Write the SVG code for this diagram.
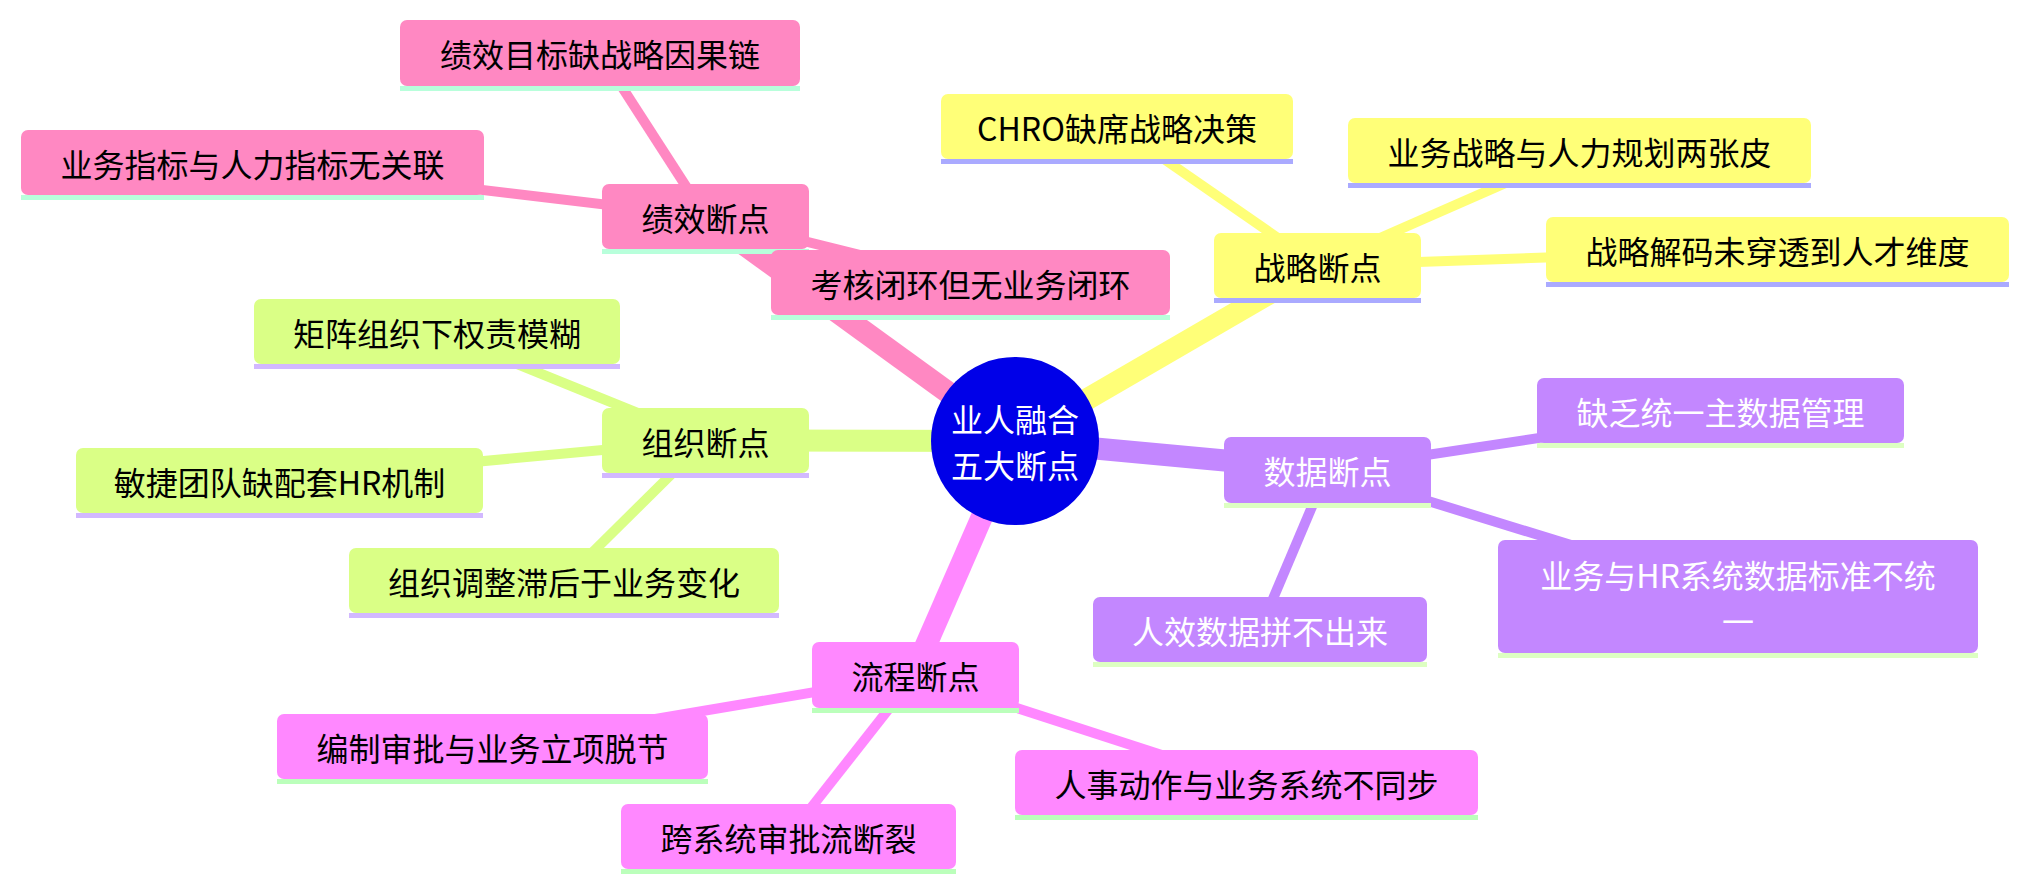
<svg xmlns="http://www.w3.org/2000/svg" width="2028" height="891" viewBox="0 0 2028 891">
<style>
text{font-family:"Noto Sans CJK SC","Noto Sans",sans-serif;font-size:32px;text-anchor:middle;dominant-baseline:central;fill:#000}
.e{fill:none;stroke-linecap:butt}
.e1{stroke-width:22}
.e2{stroke-width:10}
.pk{fill:#ff88c2}.pkl{fill:#b8ffdb}.pke{stroke:#ff88c2}
.ye{stroke:#ffff78}.yf{fill:#ffff78}.yl{fill:#aaaaff}
.gr{fill:#daff86}.grl{fill:#d2b8ff}.gre{stroke:#daff86}
.pu{fill:#c387ff}.pul{fill:#ddffc2}.pue{stroke:#c387ff}
.mg{fill:#ff88ff}.mgl{fill:#bbffbb}.mge{stroke:#ff88ff}
.w{fill:#fff}
</style>
<g id="connectors">
<line class="e e1 pke" x1="1015" y1="441" x2="705.5" y2="216.5"/>
<line class="e e1 ye" x1="1015" y1="441" x2="1317.5" y2="265.5"/>
<line class="e e1 gre" x1="1015" y1="441" x2="705.5" y2="440.5"/>
<line class="e e1 pue" x1="1015" y1="441" x2="1327.5" y2="470"/>
<line class="e e1 mge" x1="1015" y1="441" x2="913" y2="675"/>
<line class="e e2 pke" x1="705.5" y1="216.5" x2="600" y2="53"/>
<line class="e e2 pke" x1="705.5" y1="216.5" x2="252.5" y2="162.5"/>
<line class="e e2 pke" x1="705.5" y1="216.5" x2="970.5" y2="282.5"/>
<line class="e e2 ye" x1="1317.5" y1="265.5" x2="1117" y2="126.5"/>
<line class="e e2 ye" x1="1317.5" y1="265.5" x2="1579.5" y2="150.5"/>
<line class="e e2 ye" x1="1317.5" y1="265.5" x2="1777.5" y2="249.5"/>
<line class="e e2 gre" x1="705.5" y1="440.5" x2="437" y2="331.5"/>
<line class="e e2 gre" x1="705.5" y1="440.5" x2="279.5" y2="480"/>
<line class="e e2 gre" x1="705.5" y1="440.5" x2="564" y2="580.5"/>
<line class="e e2 pue" x1="1327.5" y1="470" x2="1720.5" y2="410.5"/>
<line class="e e2 pue" x1="1327.5" y1="470" x2="1738" y2="596.5"/>
<line class="e e2 pue" x1="1327.5" y1="470" x2="1260" y2="629.5"/>
<line class="e e2 mge" x1="915.5" y1="675" x2="492.5" y2="746.5"/>
<line class="e e2 mge" x1="915.5" y1="675" x2="788.5" y2="836.5"/>
<line class="e e2 mge" x1="915.5" y1="675" x2="1246.5" y2="782.5"/>
</g>
<g id="root">
<circle cx="1015" cy="441" r="84" fill="#0000e8"/>
<text class="w" x="1015" y="418">业人融合</text>
<text class="w" x="1015" y="464">五大断点</text>
</g>
<g id="jixiao">
<rect class="pk" x="602" y="184" width="207" height="65" rx="7"/><rect class="pkl" x="602" y="249" width="207" height="5"/>
<text x="705.5" y="216.5">绩效断点</text>
</g>
<g id="jixiao1">
<rect class="pk" x="400" y="20" width="400" height="66" rx="7"/><rect class="pkl" x="400" y="86" width="400" height="5"/>
<text x="600" y="53">绩效目标缺战略因果链</text>
</g>
<g id="jixiao2">
<rect class="pk" x="21" y="130" width="463" height="65" rx="7"/><rect class="pkl" x="21" y="195" width="463" height="5"/>
<text x="252.5" y="162.5">业务指标与人力指标无关联</text>
</g>
<g id="jixiao3">
<rect class="pk" x="771" y="250" width="399" height="65" rx="7"/><rect class="pkl" x="771" y="315" width="399" height="5"/>
<text x="970.5" y="282.5">考核闭环但无业务闭环</text>
</g>
<g id="zhanlue">
<rect class="yf" x="1214" y="233" width="207" height="65" rx="7"/><rect class="yl" x="1214" y="298" width="207" height="5"/>
<text x="1317.5" y="265.5">战略断点</text>
</g>
<g id="zhanlue1">
<rect class="yf" x="941" y="94" width="352" height="65" rx="7"/><rect class="yl" x="941" y="159" width="352" height="5"/>
<text x="1117" y="126.5">CHRO缺席战略决策</text>
</g>
<g id="zhanlue2">
<rect class="yf" x="1348" y="118" width="463" height="65" rx="7"/><rect class="yl" x="1348" y="183" width="463" height="5"/>
<text x="1579.5" y="150.5">业务战略与人力规划两张皮</text>
</g>
<g id="zhanlue3">
<rect class="yf" x="1546" y="217" width="463" height="65" rx="7"/><rect class="yl" x="1546" y="282" width="463" height="5"/>
<text x="1777.5" y="249.5">战略解码未穿透到人才维度</text>
</g>
<g id="zuzhi">
<rect class="gr" x="602" y="408" width="207" height="65" rx="7"/><rect class="grl" x="602" y="473" width="207" height="5"/>
<text x="705.5" y="440.5">组织断点</text>
</g>
<g id="zuzhi1">
<rect class="gr" x="254" y="299" width="366" height="65" rx="7"/><rect class="grl" x="254" y="364" width="366" height="5"/>
<text x="437" y="331.5">矩阵组织下权责模糊</text>
</g>
<g id="zuzhi2">
<rect class="gr" x="76" y="448" width="407" height="65" rx="7"/><rect class="grl" x="76" y="513" width="407" height="5"/>
<text x="279.5" y="480.5">敏捷团队缺配套HR机制</text>
</g>
<g id="zuzhi3">
<rect class="gr" x="349" y="548" width="430" height="65" rx="7"/><rect class="grl" x="349" y="613" width="430" height="5"/>
<text x="564" y="580.5">组织调整滞后于业务变化</text>
</g>
<g id="shuju">
<rect class="pu" x="1224" y="437" width="207" height="66" rx="7"/><rect class="pul" x="1224" y="503" width="207" height="5"/>
<text class="w" x="1327.5" y="470">数据断点</text>
</g>
<g id="shuju1">
<rect class="pu" x="1537" y="378" width="367" height="65" rx="7"/><rect class="pul" x="1537" y="443" width="367" height="5"/>
<text class="w" x="1720.5" y="410.5">缺乏统一主数据管理</text>
</g>
<g id="shuju2">
<rect class="pu" x="1498" y="540" width="480" height="113" rx="7"/><rect class="pul" x="1498" y="653" width="480" height="5"/>
<text class="w" x="1738" y="574">业务与HR系统数据标准不统</text>
<text class="w" x="1738" y="620">一</text>
</g>
<g id="shuju3">
<rect class="pu" x="1093" y="597" width="334" height="65" rx="7"/><rect class="pul" x="1093" y="662" width="334" height="5"/>
<text class="w" x="1260" y="629.5">人效数据拼不出来</text>
</g>
<g id="liucheng">
<rect class="mg" x="812" y="642" width="207" height="66" rx="7"/><rect class="mgl" x="812" y="708" width="207" height="5"/>
<text x="915.5" y="675">流程断点</text>
</g>
<g id="liucheng1">
<rect class="mg" x="277" y="714" width="431" height="65" rx="7"/><rect class="mgl" x="277" y="779" width="431" height="5"/>
<text x="492.5" y="746.5">编制审批与业务立项脱节</text>
</g>
<g id="liucheng2">
<rect class="mg" x="621" y="804" width="335" height="65" rx="7"/><rect class="mgl" x="621" y="869" width="335" height="5"/>
<text x="788.5" y="836.5">跨系统审批流断裂</text>
</g>
<g id="liucheng3">
<rect class="mg" x="1015" y="750" width="463" height="65" rx="7"/><rect class="mgl" x="1015" y="815" width="463" height="5"/>
<text x="1246.5" y="782.5">人事动作与业务系统不同步</text>
</g>
</svg>
